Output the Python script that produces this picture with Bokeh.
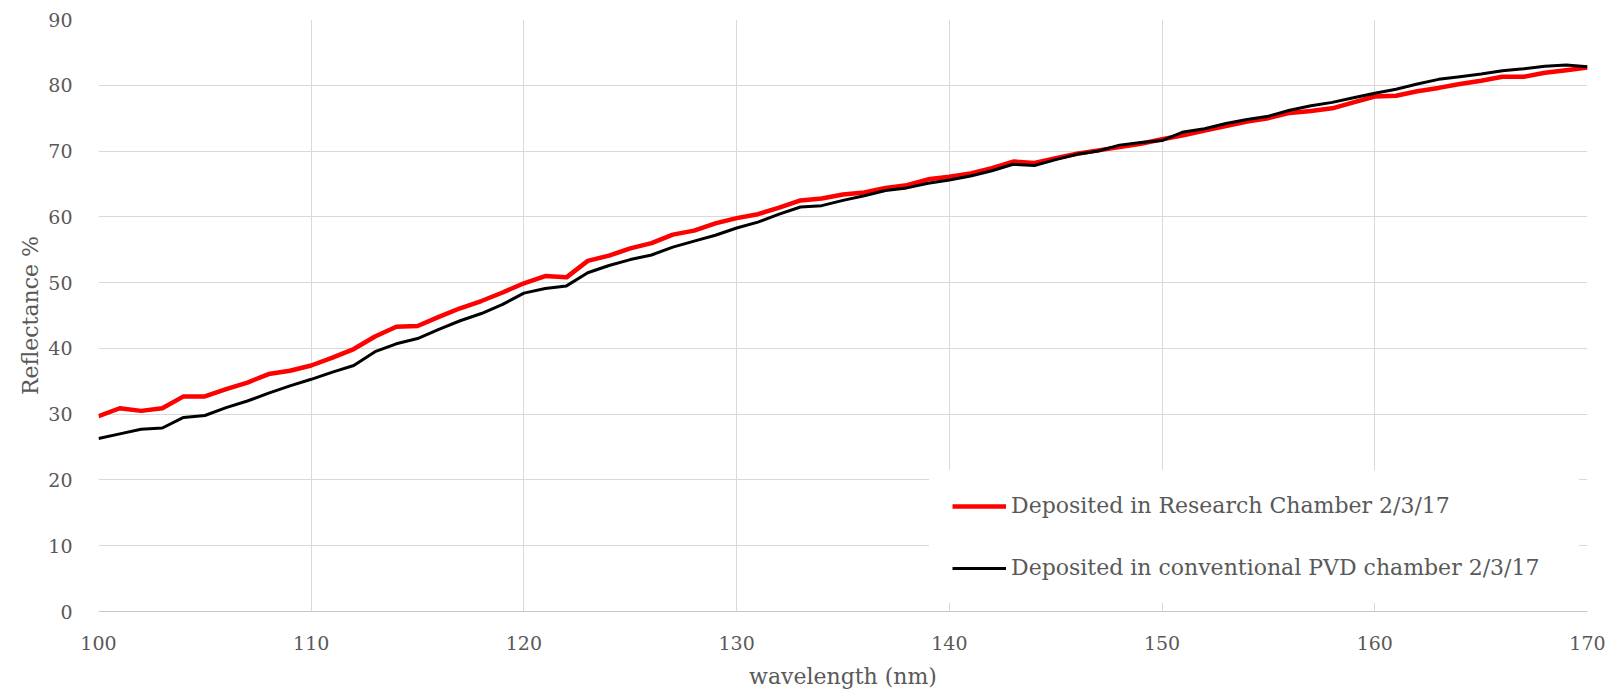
from bokeh.plotting import figure
from bokeh.models import Legend, LegendItem, FixedTicker
from bokeh.embed import file_html
from bokeh.resources import INLINE

# ---- data ----
wavelength = [100, 101, 102, 103, 104, 105, 106, 107, 108, 109,
              110, 111, 112, 113, 114, 115, 116, 117, 118, 119,
              120, 121, 122, 123, 124, 125, 126, 127, 128, 129,
              130, 131, 132, 133, 134, 135, 136, 137, 138, 139,
              140, 141, 142, 143, 144, 145, 146, 147, 148, 149,
              150, 151, 152, 153, 154, 155, 156, 157, 158, 159,
              160, 161, 162, 163, 164, 165, 166, 167, 168, 169, 170]

research_chamber = [29.7, 30.9, 30.5, 30.9, 32.7, 32.7, 33.8, 34.8, 36.1, 36.6,
                    37.4, 38.6, 39.9, 41.8, 43.3, 43.4, 44.8, 46.1, 47.2, 48.5,
                    49.9, 51.0, 50.8, 53.3, 54.1, 55.2, 56.0, 57.3, 57.9, 59.0,
                    59.8, 60.4, 61.4, 62.5, 62.8, 63.4, 63.7, 64.4, 64.8, 65.7,
                    66.1, 66.6, 67.4, 68.4, 68.2, 68.9, 69.6, 70.1, 70.6, 71.1,
                    71.8, 72.4, 73.1, 73.8, 74.5, 75.0, 75.8, 76.1, 76.5, 77.4,
                    78.3, 78.4, 79.1, 79.6, 80.2, 80.7, 81.3, 81.3, 81.9, 82.3, 82.7]

conventional_pvd = [26.3, 27.0, 27.7, 27.9, 29.5, 29.8, 31.0, 32.0, 33.2, 34.3,
                    35.3, 36.4, 37.4, 39.5, 40.7, 41.5, 42.9, 44.2, 45.3, 46.7,
                    48.4, 49.1, 49.5, 51.5, 52.6, 53.5, 54.2, 55.4, 56.3, 57.2,
                    58.3, 59.2, 60.4, 61.5, 61.7, 62.5, 63.2, 64.0, 64.4, 65.1,
                    65.6, 66.2, 67.0, 68.0, 67.8, 68.7, 69.5, 70.0, 70.9, 71.3,
                    71.6, 72.9, 73.4, 74.2, 74.8, 75.3, 76.2, 76.9, 77.4, 78.1,
                    78.8, 79.4, 80.2, 80.9, 81.3, 81.7, 82.2, 82.5, 82.9, 83.1, 82.8]

x_ticks = [100, 110, 120, 130, 140, 150, 160, 170]
y_ticks = [0, 10, 20, 30, 40, 50, 60, 70, 80, 90]
series_labels = ["Deposited in Research Chamber 2/3/17",
                 "Deposited in conventional PVD chamber 2/3/17"]
x_title = "wavelength (nm)"
y_title = "Reflectance %"

FONT = "DejaVu Serif"
TEXT = "#595959"
GRID = "#d9d9d9"

p = figure(width=1610, height=692,
           x_range=(x_ticks[0], x_ticks[-1]), y_range=(y_ticks[0], y_ticks[-1]),
           output_backend="svg", toolbar_location=None,
           min_border_left=98, min_border_right=23,
           min_border_top=19, min_border_bottom=81)
p.outline_line_color = None
p.background_fill_color = "white"
p.border_fill_color = "white"

r_red = p.line(wavelength, research_chamber, line_color="#ff0000", line_width=4.5,
               line_join="round")
r_blk = p.line(wavelength, conventional_pvd, line_color="#000000", line_width=3,
               line_join="round")

# axes
p.xaxis.ticker = FixedTicker(ticks=x_ticks)
p.yaxis.ticker = FixedTicker(ticks=y_ticks)
for ax in (p.xaxis, p.yaxis):
    ax.major_tick_line_color = None
    ax.minor_tick_line_color = None
    ax.major_label_text_font = FONT
    ax.major_label_text_font_size = "19px"
    ax.major_label_text_color = TEXT
    ax.axis_label_text_font = FONT
    ax.axis_label_text_font_size = "22px"
    ax.axis_label_text_font_style = "normal"
    ax.axis_label_text_color = TEXT
p.xaxis.axis_line_color = "#c8c8c8"
p.yaxis.axis_line_color = None
p.xaxis.major_label_standoff = 18
p.yaxis.major_label_standoff = 20
p.xaxis.axis_label = x_title
p.yaxis.axis_label = y_title
p.xaxis.axis_label_standoff = 11
p.yaxis.axis_label_standoff = 2

p.xgrid.grid_line_color = GRID
p.ygrid.grid_line_color = GRID
p.xgrid.ticker = FixedTicker(ticks=x_ticks)
p.ygrid.ticker = FixedTicker(ticks=y_ticks)

# border colour must be set (white) so that the padding is applied
legend = Legend(items=[LegendItem(label=series_labels[0], renderers=[r_red]),
                       LegendItem(label=series_labels[1], renderers=[r_blk])],
                location="bottom_right", margin=8, padding=22, spacing=37,
                glyph_width=54, glyph_height=20, label_height=20,
                label_standoff=5, label_width=545,
                label_text_font=FONT, label_text_font_size="22px",
                label_text_color=TEXT,
                background_fill_color="white", background_fill_alpha=1.0,
                border_line_color="white", border_line_width=1)
p.add_layout(legend)

open("out.html", "w").write(file_html(p, INLINE))
